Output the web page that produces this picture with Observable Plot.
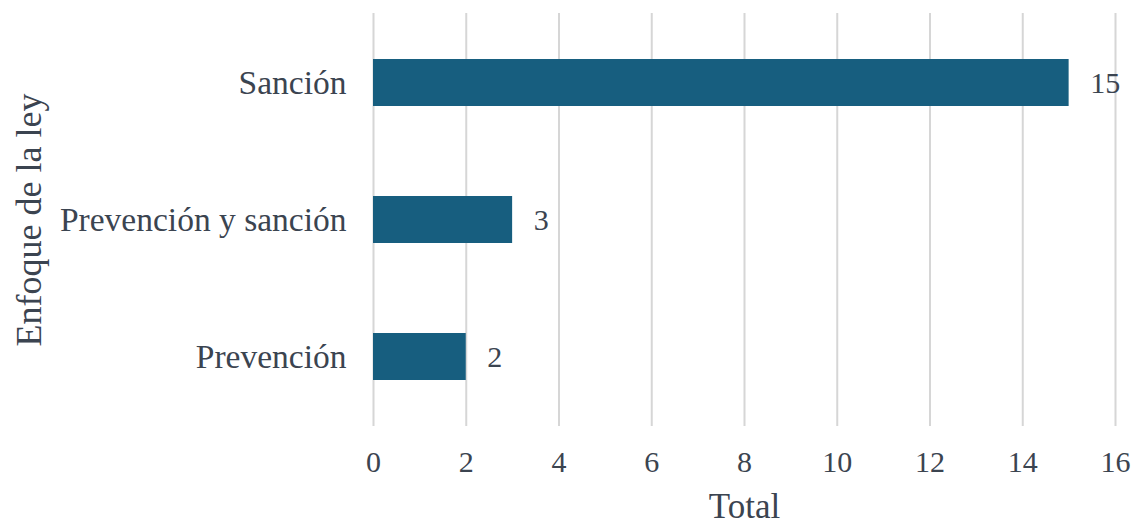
<!DOCTYPE html>
<html><head><meta charset="utf-8">
<script src="https://cdn.jsdelivr.net/npm/d3@7"></script>
<script src="https://cdn.jsdelivr.net/npm/@observablehq/plot@0.6"></script>
<style>body{margin:0;background:#fff}</style>
</head><body><div id="chart"></div>
<script>
const categories = ["Sanción", "Prevención y sanción", "Prevención"];
const totals = [15, 3, 2];
const xTicks = [0, 2, 4, 6, 8, 10, 12, 14, 16];
const data = categories.map((c, i) => ({cat: c, total: totals[i]}));
const textColor = "#3b4450";
const chart = Plot.plot({
  width: 1132, height: 526,
  marginLeft: 373, marginRight: 17, marginTop: 13, marginBottom: 100,
  style: {fontFamily: "'Liberation Serif', serif", color: textColor, background: "#fff"},
  x: {domain: [0, 16], ticks: xTicks},
  y: {domain: categories, paddingInner: 0.658, paddingOuter: 0.329},
  marks: [
    Plot.gridX(xTicks, {stroke: "#d6d6d6", strokeOpacity: 1, strokeWidth: 2}),
    Plot.barX(data, {y: "cat", x: "total", fill: "#175e7f"}),
    Plot.text(data, {y: "cat", x: "total", text: d => String(d.total), dx: 21, textAnchor: "start", fontSize: 30, fill: textColor}),
    Plot.axisX({ticks: xTicks, tickSize: 0, tickPadding: 24, fontSize: 30, label: null}),
    Plot.axisY({tickSize: 0, tickPadding: 27, fontSize: 33.5, label: null}),
    Plot.text(["Total"], {frameAnchor: "bottom", lineAnchor: "middle", dy: 80, fontSize: 35, fill: textColor}),
    Plot.text(["Enfoque de la ley"], {frameAnchor: "left", textAnchor: "middle", lineAnchor: "middle", dx: -344, rotate: -90, fontSize: 36, fill: textColor})
  ]
});
document.getElementById("chart").appendChild(chart);
</script>
</body></html>
